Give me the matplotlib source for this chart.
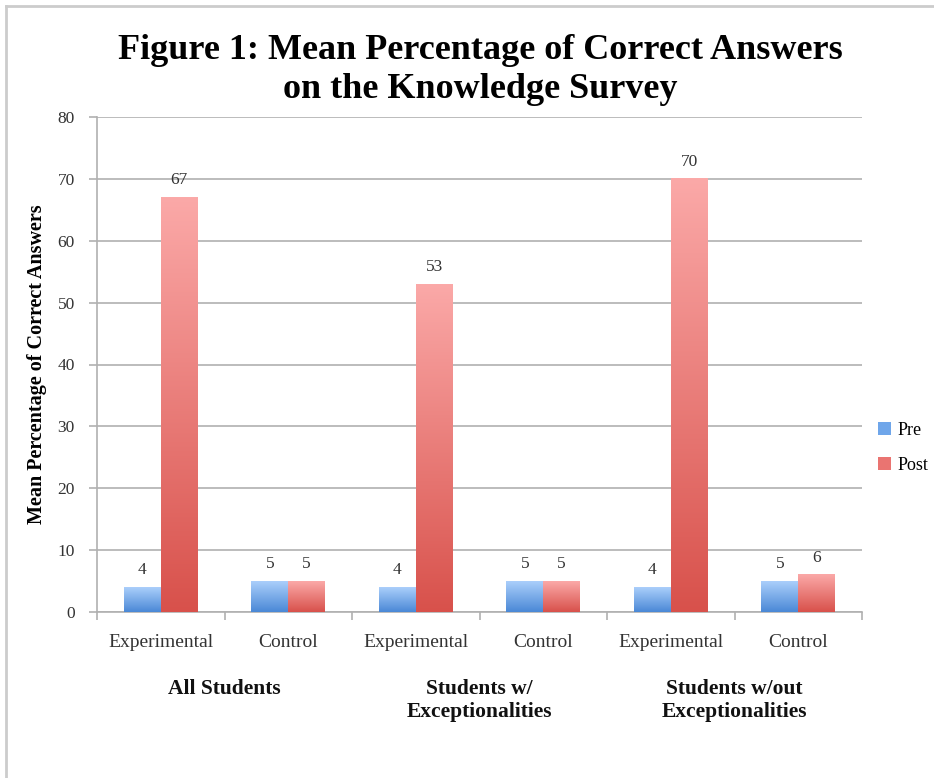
import numpy as np
import matplotlib
matplotlib.use("Agg")
import matplotlib.pyplot as plt
from matplotlib.colors import LinearSegmentedColormap
from matplotlib.lines import Line2D
from matplotlib.patches import Patch

categories = ["Experimental", "Control", "Experimental", "Control", "Experimental", "Control"]
groups = ["All Students", "Students w/\nExceptionalities", "Students w/out\nExceptionalities"]
pre = [4, 5, 4, 5, 4, 5]
post = [67, 5, 53, 5, 70, 6]
series_names = ["Pre", "Post"]

plt.rcParams['font.family'] = ['Liberation Serif', 'DejaVu Serif']

fig = plt.figure(figsize=(9.34, 7.78), dpi=100)
ax = fig.add_axes([97/934, 1 - 612/778, (862 - 97)/934, (612 - 117)/778])

blue_cmap = LinearSegmentedColormap.from_list("b", ["#4a88d6", "#abcffb"])
red_cmap = LinearSegmentedColormap.from_list("r", ["#d8514b", "#fba9a8"])
grad = np.linspace(0, 1, 256).reshape(-1, 1)

x = np.arange(len(categories))
w = 0.29
off = 2.8

for xi, v in zip(x, pre):
    ax.imshow(grad, extent=(xi - w, xi, 0, v), origin="lower", aspect="auto",
              cmap=blue_cmap, zorder=3)
    ax.text(xi - w/2, v + off, str(v), ha="center", va="center", fontsize=12.5, color="#333333")
for xi, v in zip(x, post):
    ax.imshow(grad, extent=(xi, xi + w, 0, v), origin="lower", aspect="auto",
              cmap=red_cmap, zorder=3)
    ax.text(xi + w/2, v + off, str(v), ha="center", va="center", fontsize=12.5, color="#333333")
ax.set_xlim(-0.5, len(categories) - 0.5)
ax.set_ylim(0, 80)

ax.set_yticks(np.arange(0, 81, 10))
ax.yaxis.grid(True, color="#b0b0b0", linewidth=1.2, zorder=0)
ax.set_axisbelow(True)
for s in ["top", "right"]:
    ax.spines[s].set_visible(False)
for s in ["left", "bottom"]:
    ax.spines[s].set_color("#b0b0b0")
    ax.spines[s].set_linewidth(1.2)
ax.tick_params(axis="y", colors="#b0b0b0", labelcolor="#333333", labelsize=12.5,
               length=6, width=1.2, pad=10)
ax.set_xticks(np.arange(-0.5, len(categories), 1.0))
ax.set_xticklabels([])
ax.tick_params(axis="x", colors="#b0b0b0", length=6, width=1.2)
for xi, c in zip(x, categories):
    ax.text(xi, -5.0, c, ha="center", va="center", fontsize=14, color="#333333")
for gi, g in enumerate(groups):
    ax.text(2*gi + 0.5, -10.9, g, ha="center", va="top", fontsize=15.5, fontweight="bold",
            color="#111111", linespacing=1.2)

ax.set_ylabel("Mean Percentage of Correct Answers", fontsize=14.5, fontweight="bold")
ax.yaxis.set_label_coords(-50/765, 0.5)

fig.text(480/934, 1 - 70/778, "Figure 1: Mean Percentage of Correct Answers\non the Knowledge Survey",
         ha="center", va="center", fontsize=26, fontweight="bold", linespacing=1.27)

handles = [Patch(facecolor="#6fa6ea", label=series_names[0]),
           Patch(facecolor="#ea7471", label=series_names[1])]
fig.legend(handles=handles, loc="center left", bbox_to_anchor=(862/934, 1 - 448/778),
           frameon=False, fontsize=13, handlelength=0.7, handleheight=0.7,
           handletextpad=0.35, labelspacing=1.0)

fig.add_artist(Line2D([6/934, 6/934], [0, 1 - 6/778], color="#cccccc", linewidth=2))
fig.add_artist(Line2D([6/934, 1], [1 - 6/778, 1 - 6/778], color="#cccccc", linewidth=2))

fig.savefig("out.png", dpi=100)
